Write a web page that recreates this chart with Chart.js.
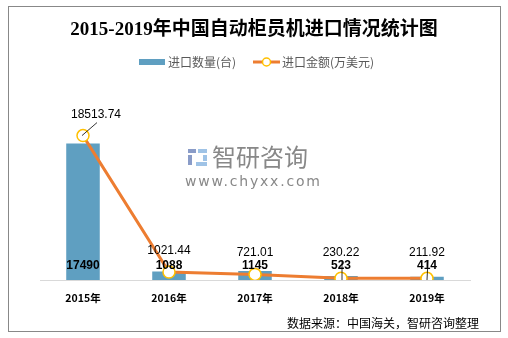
<!DOCTYPE html>
<html>
<head>
<meta charset="utf-8">
<script src="https://cdn.jsdelivr.net/npm/chart.js@4/dist/chart.umd.min.js"></script>
<style>
  html, body { margin: 0; padding: 0; background: #fff; }
  #wrap { width: 508px; height: 338px; }
</style>
</head>
<body>
<div id="wrap"><canvas id="chImport" width="508" height="338"></canvas></div>
<script>
// chart data
var years = ['2015年', '2016年', '2017年', '2018年', '2019年'];
var importQty = [17490, 1088, 1145, 523, 414];               // 进口数量(台)
var importAmt = [18513.74, 1021.44, 721.01, 230.22, 211.92]; // 进口金额(万美元)

var barColor = '#5f9fc1';
var lineColor = '#ed7d31';
var pointColor = '#ffc000';
var cjk = '"Noto Sans CJK SC", "Microsoft YaHei", sans-serif';

// title, legend, frame, watermark, source
var decoPlugin = {
  id: 'deco',
  beforeDatasetsDraw: function (chart) {
    var ctx = chart.ctx;
    ctx.save();
    // watermark logo
    ctx.fillStyle = '#8a9cc8';
    ctx.fillRect(188, 149, 8, 4);
    ctx.fillRect(188, 155, 4, 10);
    ctx.fillStyle = '#9fc3e6';
    ctx.fillRect(198, 149, 9, 4);
    ctx.fillRect(203, 155, 4, 6);
    ctx.fillRect(196, 162, 11, 4);
    ctx.fillStyle = '#888';
    ctx.font = '24px ' + cjk;
    ctx.textBaseline = 'middle';
    ctx.textAlign = 'left';
    ctx.fillText('智研咨询', 212, 157);
    ctx.font = '14px "DejaVu Sans", sans-serif';
    ctx.letterSpacing = '1.8px';
    ctx.fillText('www.chyxx.com', 185, 182);
    ctx.restore();
  },
  afterDraw: function (chart) {
    var ctx = chart.ctx;
    ctx.save();
    // frame
    ctx.strokeStyle = '#888';
    ctx.lineWidth = 1;
    ctx.strokeRect(8.5, 6.5, 492, 325);
    // title
    ctx.fillStyle = '#000';
    ctx.textAlign = 'center';
    ctx.textBaseline = 'middle';
    ctx.font = 'bold 19px "Liberation Serif", "Noto Sans CJK SC", serif';
    ctx.fillText('2015-2019年中国自动柜员机进口情况统计图', 254, 30);
    // legend
    ctx.font = '12px ' + cjk;
    ctx.textAlign = 'left';
    ctx.fillStyle = barColor;
    ctx.fillRect(139, 59, 26, 6);
    ctx.fillStyle = '#595959';
    ctx.fillText('进口数量(台)', 168, 62);
    ctx.strokeStyle = lineColor;
    ctx.lineWidth = 3;
    ctx.beginPath();
    ctx.moveTo(253, 62);
    ctx.lineTo(280, 62);
    ctx.stroke();
    ctx.beginPath();
    ctx.arc(266.5, 62, 4, 0, Math.PI * 2);
    ctx.fillStyle = '#fff';
    ctx.fill();
    ctx.lineWidth = 1.5;
    ctx.strokeStyle = pointColor;
    ctx.stroke();
    ctx.fillStyle = '#595959';
    ctx.fillText('进口金额(万美元)', 282, 62);
    // source
    ctx.fillStyle = '#000';
    ctx.textAlign = 'right';
    ctx.fillText('数据来源：中国海关，智研咨询整理', 479, 323);
    ctx.restore();
  }
};

// value labels
var labelPlugin = {
  id: 'valueLabels',
  afterDatasetsDraw: function (chart) {
    var ctx = chart.ctx;
    var base = chart.scales.y.getPixelForValue(0);
    ctx.save();
    ctx.textAlign = 'center';
    ctx.textBaseline = 'middle';
    ctx.fillStyle = '#000';
    // bar values, inside base
    ctx.font = 'bold 12px "Liberation Sans", Arial, sans-serif';
    chart.getDatasetMeta(1).data.forEach(function (bar, i) {
      ctx.fillText(String(importQty[i]), bar.x, base - 14);
    });
    // line values above points
    ctx.font = '12px "Liberation Sans", Arial, sans-serif';
    ctx.strokeStyle = '#000';
    ctx.lineWidth = 0.8;
    chart.getDatasetMeta(0).data.forEach(function (pt, i) {
      var txt = importAmt[i].toFixed(2);
      var lx = pt.x, ly = Math.min(pt.y - 21, base - 27);
      if (i === 0) {
        lx = pt.x + 13;
        ctx.beginPath();
        ctx.moveTo(pt.x - 1, pt.y);
        ctx.lineTo(pt.x + 14, pt.y - 13);
        ctx.stroke();
      } else if (i >= 3) {
        ctx.beginPath();
        ctx.moveTo(pt.x + 1, base - 20);
        ctx.lineTo(pt.x + (i === 4 ? 0 : 1), base);
        ctx.stroke();
      }
      ctx.fillText(txt, lx, ly);
    });
    ctx.restore();
  }
};

new Chart(document.getElementById('chImport'), {
  type: 'bar',
  data: {
    labels: years,
    datasets: [
      {
        type: 'line',
        label: '进口金额(万美元)',
        data: importAmt,
        borderColor: lineColor,
        borderWidth: 3,
        pointRadius: 6,
        pointBorderWidth: 1.5,
        pointBorderColor: pointColor,
        pointBackgroundColor: '#fff',
        tension: 0,
        order: 0
      },
      {
        type: 'bar',
        label: '进口数量(台)',
        data: importQty,
        backgroundColor: barColor,
        barPercentage: 0.39,
        categoryPercentage: 1,
        order: 1
      }
    ]
  },
  options: {
    responsive: false,
    animation: false,
    layout: { padding: { left: 40, right: 38, top: 124, bottom: 28 } },
    plugins: { legend: { display: false }, tooltip: { enabled: false } },
    scales: {
      x: {
        offset: true,
        grid: { display: false },
        border: { color: '#d9d9d9' },
        ticks: { color: '#000', padding: 4, font: { family: cjk, size: 10.5, weight: 'bold' } },
        afterFit: function (s) { s.height = 30; }
      },
      y: { display: false, min: 0, max: 20000 }
    }
  },
  plugins: [decoPlugin, labelPlugin]
});
</script>
</body>
</html>
